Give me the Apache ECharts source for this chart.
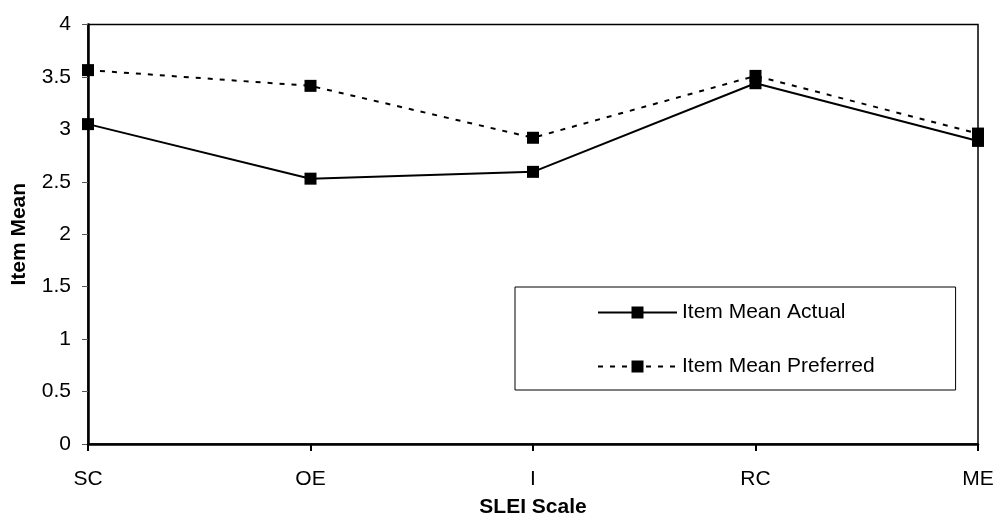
<!DOCTYPE html>
<html>
<head>
<meta charset="utf-8">
<script src="https://cdn.jsdelivr.net/npm/echarts@6/dist/echarts.min.js"></script>
<style>
html,body{margin:0;padding:0;background:#fff;}
#chart{width:998px;height:523px;}
</style>
</head>
<body>
<div id="chart"></div>
<script>
var categories = ['SC', 'OE', 'I', 'RC', 'ME'];
var actual = [3.05, 2.53, 2.595, 3.44, 2.89];
var preferred = [3.565, 3.415, 2.92, 3.51, 2.96];
var seriesNames = ['Item Mean Actual', 'Item Mean Preferred'];
var xTitle = 'SLEI Scale';
var yTitle = 'Item Mean';

var FONT = '"Liberation Sans", Arial, sans-serif';
var chart = echarts.init(document.getElementById('chart'), null, {renderer: 'canvas'});
chart.setOption({
  animation: false,
  backgroundColor: '#fff',
  textStyle: {fontFamily: FONT, color: '#000'},
  grid: {
    left: 88, right: 20, top: 24.5, bottom: 78,
    show: true, borderColor: '#000', borderWidth: 1.5, backgroundColor: 'transparent'
  },
  legend: {
    orient: 'vertical',
    left: 515, top: 287,
    padding: [15, 81, 13, 82],
    itemWidth: 79, itemHeight: 15, itemGap: 33,
    backgroundColor: '#fff',
    borderColor: '#000', borderWidth: 1,
    textStyle: {fontFamily: FONT, fontSize: 21, color: '#000'},
    data: seriesNames
  },
  xAxis: {
    type: 'category',
    data: categories,
    boundaryGap: false,
    name: xTitle,
    nameLocation: 'middle',
    nameGap: 53,
    nameTextStyle: {fontFamily: FONT, fontSize: 21, fontWeight: 'bold', color: '#000'},
    axisLine: {lineStyle: {color: '#000', width: 2.5}},
    axisTick: {show: true, inside: false, length: 7, alignWithLabel: true, lineStyle: {color: '#000', width: 2}},
    axisLabel: {margin: 25, fontSize: 21, color: '#000', fontFamily: FONT},
    splitLine: {show: false}
  },
  yAxis: {
    type: 'value',
    min: 0, max: 4, interval: 0.5,
    name: yTitle,
    nameLocation: 'middle',
    nameGap: 58,
    nameTextStyle: {fontFamily: FONT, fontSize: 21, fontWeight: 'bold', color: '#000'},
    axisLine: {show: true, lineStyle: {color: '#000', width: 2.5}},
    axisTick: {show: true, inside: false, length: 6, lineStyle: {color: '#555', width: 1}},
    axisLabel: {margin: 17, fontSize: 21, color: '#000', fontFamily: FONT},
    splitLine: {show: false}
  },
  series: [
    {
      name: seriesNames[0],
      type: 'line',
      data: actual,
      symbol: 'rect',
      symbolSize: 12,
      clip: false,
      itemStyle: {color: '#000'},
      lineStyle: {color: '#000', width: 2, type: 'solid'}
    },
    {
      name: seriesNames[1],
      type: 'line',
      data: preferred,
      symbol: 'rect',
      symbolSize: 12,
      clip: false,
      itemStyle: {color: '#000'},
      lineStyle: {color: '#000', width: 2, type: [5, 7]}
    }
  ]
});
</script>
</body>
</html>
